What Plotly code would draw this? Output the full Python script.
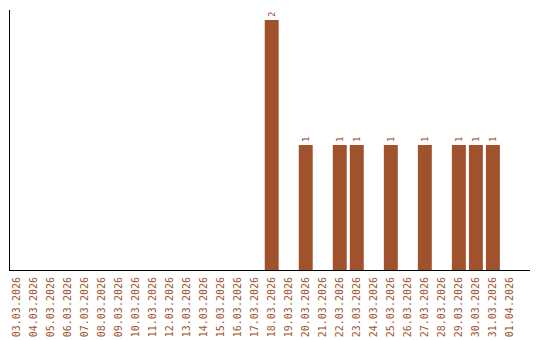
import plotly.graph_objects as go

dates = ["03.03.2026", "04.03.2026", "05.03.2026", "06.03.2026", "07.03.2026",
         "08.03.2026", "09.03.2026", "10.03.2026", "11.03.2026", "12.03.2026",
         "13.03.2026", "14.03.2026", "15.03.2026", "16.03.2026", "17.03.2026",
         "18.03.2026", "19.03.2026", "20.03.2026", "21.03.2026", "22.03.2026",
         "23.03.2026", "24.03.2026", "25.03.2026", "26.03.2026", "27.03.2026",
         "28.03.2026", "29.03.2026", "30.03.2026", "31.03.2026", "01.04.2026"]
counts = [0, 0, 0, 0, 0, 0, 0, 0, 0, 0, 0, 0, 0, 0, 0,
          2, 0, 1, 0, 1, 1, 0, 1, 0, 1, 0, 1, 1, 1, 0]

color = "#A0522D"
labels = [str(v) if v > 0 else "" for v in counts]

fig = go.Figure(go.Bar(
    x=dates, y=counts, marker_color=color, marker_line_width=0,
    text=labels, textposition="outside", textangle=-90,
    textfont=dict(family="DejaVu Sans Mono", size=9, color=color),
    cliponaxis=False,
))
fig.update_layout(
    width=540, height=340,
    margin=dict(l=10, r=10, t=10, b=70),
    paper_bgcolor="white", plot_bgcolor="white",
    bargap=0.18, showlegend=False,
    xaxis=dict(type="category", range=[-0.38, 30.18], showline=True,
               linecolor="black", linewidth=1, showgrid=False, ticks="",
               tickangle=-90, automargin=False, ticklabelstandoff=2,
               tickfont=dict(family="DejaVu Sans Mono", size=10, color=color)),
    yaxis=dict(range=[0, 2.08], showline=True, linecolor="black", linewidth=1,
               showgrid=False, zeroline=False, showticklabels=False, ticks="",
               automargin=False),
)
fig.write_html("out.html")
